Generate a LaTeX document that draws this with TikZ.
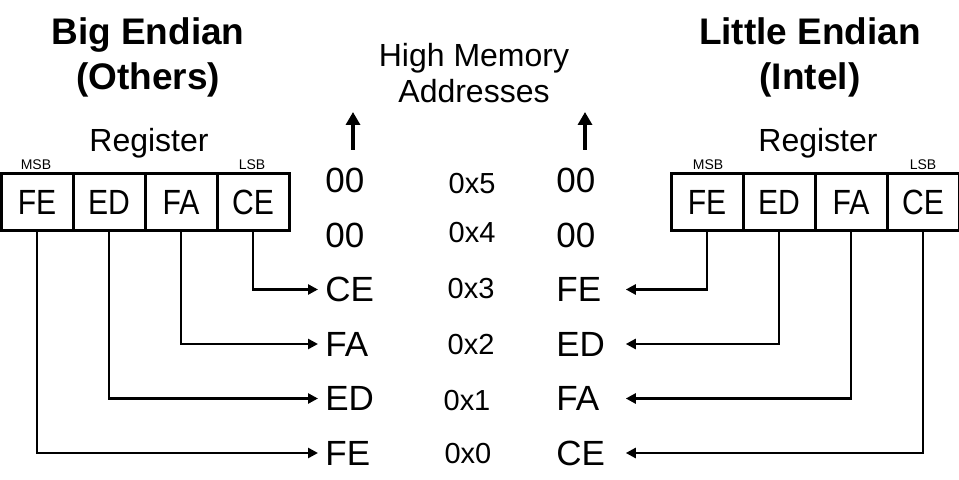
\documentclass[tikz,border=0pt]{standalone}
\usepackage{fontspec}
\setmainfont{Liberation Sans}
\newfontfamily\cellfont[FakeStretch=0.86]{Liberation Sans}
\usetikzlibrary{arrows.meta}

\tikzset{
  cell/.style={draw,line width=1.5pt,minimum width=36pt,minimum height=28.5pt,inner sep=0pt,text depth=0pt,font=\cellfont\fontsize{17.5}{20}\selectfont},
  byte/.style={anchor=west,text width=31pt,align=left,inner xsep=3.5pt,inner ysep=0pt,text depth=0pt,font=\fontsize{17.5}{20}\selectfont},
  addr/.style={inner sep=0pt,text depth=0pt,font=\fontsize{14.5}{17}\selectfont},
  title/.style={anchor=base,inner sep=0pt,font=\fontsize{18.5}{22}\selectfont\bfseries},
  label/.style={anchor=base,inner sep=0pt,font=\fontsize{16}{19}\selectfont},
  tag/.style={anchor=base,inner sep=0pt,font=\fontsize{7}{8}\selectfont},
  conn/.style={line width=1.25pt,-{Triangle[length=5pt,width=5pt]}},
  uparr/.style={line width=2pt,-{Triangle[length=6.5pt,width=7pt]}}
}

\begin{document}
\begin{tikzpicture}[x=0.5pt,y=-0.5pt]
\useasboundingbox[fill=white] (0,0) rectangle (959,480);
% titles
\node[title] (bigt) at (148,45) {Big Endian};
\node[title] (bigs) at (148,90) {(Others)};
\node[title] (litt) at (810,45) {Little Endian};
\node[title] (lits) at (810,90) {(Intel)};
\node[label] (high) at (474,67) {High Memory};
\node[label] (addrs) at (474,103) {Addresses};
% big endian register
\node[label] (lreg) at (149,152) {Register};
\node[tag] (lmsb) at (36,170) {MSB};
\node[tag] (llsb) at (252,170) {LSB};
\node[cell] (lFE) at (37,202) {FE};
\node[cell] (lED) at (109,202) {ED};
\node[cell] (lFA) at (181,202) {FA};
\node[cell] (lCE) at (253,202) {CE};
% little endian register
\node[label] (rreg) at (818,152) {Register};
\node[tag] (rmsb) at (708,170) {MSB};
\node[tag] (rlsb) at (923,170) {LSB};
\node[cell] (rFE) at (707,202) {FE};
\node[cell] (rED) at (779,202) {ED};
\node[cell] (rFA) at (851,202) {FA};
\node[cell] (rCE) at (923,202) {CE};
% memory, big endian side
\node[byte] (lm5) at (318,180.5) {00};
\node[byte] (lm4) at (318,235) {00};
\node[byte] (lm3) at (318,289.5) {CE};
\node[byte] (lm2) at (318,344) {FA};
\node[byte] (lm1) at (318,398.5) {ED};
\node[byte] (lm0) at (318,453) {FE};
% addresses
\node[addr] (a5) at (472,183) {0x5};
\node[addr] (a4) at (472,232) {0x4};
\node[addr] (a3) at (471,288) {0x3};
\node[addr] (a2) at (471,344) {0x2};
\node[addr] (a1) at (467,400) {0x1};
\node[addr] (a0) at (468,453) {0x0};
% memory, little endian side
\node[byte] (rm5) at (549,180.5) {00};
\node[byte] (rm4) at (549,235) {00};
\node[byte] (rm3) at (549,289.5) {FE};
\node[byte] (rm2) at (549,344) {ED};
\node[byte] (rm1) at (549,398.5) {FA};
\node[byte] (rm0) at (549,453) {CE};
% up arrows
\coordinate (lbot) at (353,150);
\coordinate (ltop) at (353,112);
\coordinate (rbot) at (585,150);
\coordinate (rtop) at (585,112);
\draw[uparr] (lbot) -- (ltop);
\draw[uparr] (rbot) -- (rtop);
% connectors
\draw[conn] (lCE.south) |- (lm3.west);
\draw[conn] (lFA.south) |- (lm2.west);
\draw[conn] (lED.south) |- (lm1.west);
\draw[conn] (lFE.south) |- (lm0.west);
\draw[conn] (rFE.south) |- (rm3.east);
\draw[conn] (rED.south) |- (rm2.east);
\draw[conn] (rFA.south) |- (rm1.east);
\draw[conn] (rCE.south) |- (rm0.east);
\end{tikzpicture}
\end{document}
